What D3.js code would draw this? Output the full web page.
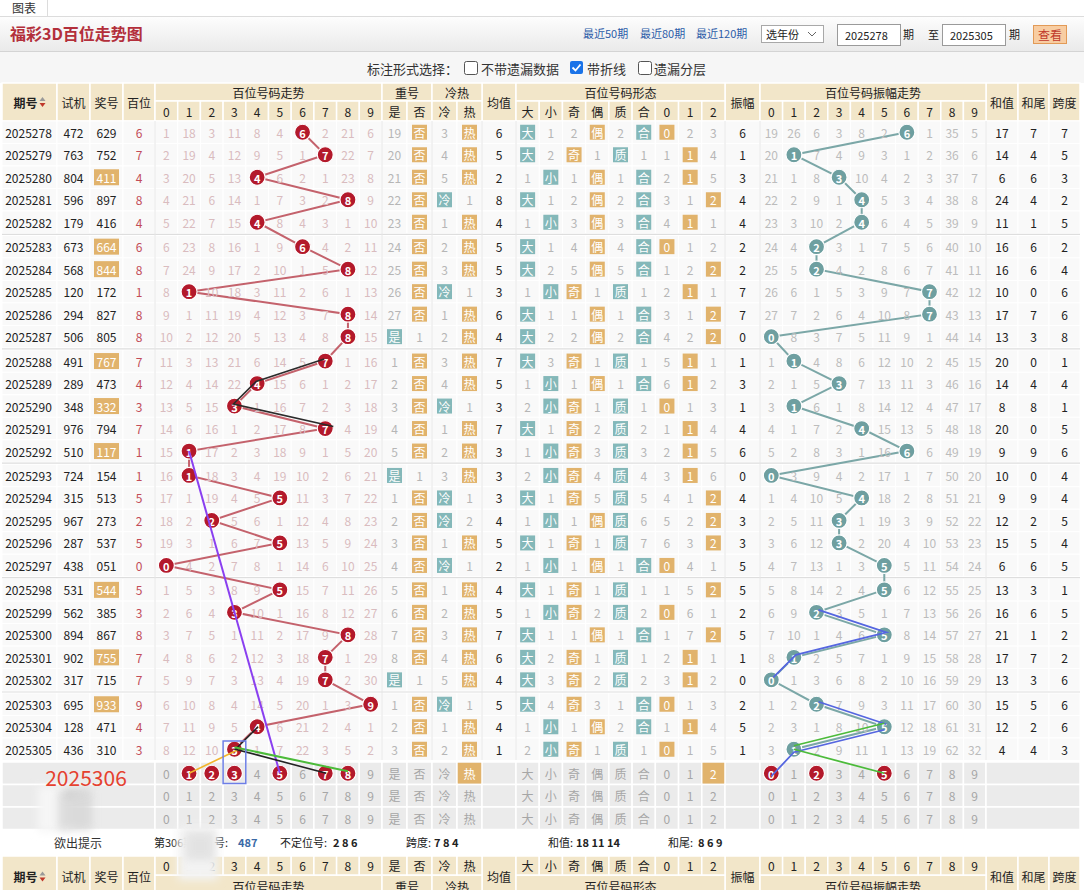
<!DOCTYPE html>
<html><head><meta charset="utf-8">
<script src="https://cdn.jsdelivr.net/npm/d3@7"></script>
<style>
body{margin:0;background:#fff;}
svg text{font-family:"Noto Sans CJK SC","Noto Sans",sans-serif;}
</style></head>
<body><svg id="c" width="1084" height="890"></svg>
<script>
// ---------------- DATA ----------------
const issues = ["2025278","2025279","2025280","2025281","2025282","2025283","2025284","2025285","2025286","2025287","2025288","2025289","2025290","2025291","2025292","2025293","2025294","2025295","2025296","2025297","2025298","2025299","2025300","2025301","2025302","2025303","2025304","2025305"];
const shiji = ["472","763","804","596","179","673","568","120","294","506","491","289","348","976","510","724","315","967","287","438","531","562","894","902","317","695","128","436"];
const jianghao = ["629","752","411","897","416","664","844","172","827","805","767","473","332","794","117","154","513","273","537","051","544","385","867","755","715","933","471","310"];
const jianghaoMarked = ["411","664","844","767","332","117","544","755","933"];
const baiwei = [6,7,4,8,4,6,8,1,8,8,7,4,3,7,1,1,5,2,5,0,5,3,8,7,7,9,4,3];
// miss values for digits 0-9 (0 = drawn this issue)
const trendMiss = [
 [1,18,3,11,8,4,0,2,21,6],[2,19,4,12,9,5,1,0,22,7],[3,20,5,13,0,6,2,1,23,8],[4,21,6,14,1,7,3,2,0,9],[5,22,7,15,0,8,4,3,1,10],
 [6,23,8,16,1,9,0,4,2,11],[7,24,9,17,2,10,1,5,0,12],[8,0,10,18,3,11,2,6,1,13],[9,1,11,19,4,12,3,7,0,14],[10,2,12,20,5,13,4,8,0,15],
 [11,3,13,21,6,14,5,0,1,16],[12,4,14,22,0,15,6,1,2,17],[13,5,15,0,1,16,7,2,3,18],[14,6,16,1,2,17,8,0,4,19],[15,0,17,2,3,18,9,1,5,20],
 [16,0,18,3,4,19,10,2,6,21],[17,1,19,4,5,0,11,3,7,22],[18,2,0,5,6,1,12,4,8,23],[19,3,1,6,7,0,13,5,9,24],[0,4,2,7,8,1,14,6,10,25],
 [1,5,3,8,9,0,15,7,11,26],[2,6,4,0,10,1,16,8,12,27],[3,7,5,1,11,2,17,9,0,28],[4,8,6,2,12,3,18,0,1,29],[5,9,7,3,13,4,19,0,2,30],
 [6,10,8,4,14,5,20,1,3,0],[7,11,9,5,0,6,21,2,4,1],[8,12,10,0,1,7,22,3,5,2]];
// 重号 [是,否]  (0 = hit)
const chong = [[19,0],[20,0],[21,0],[22,0],[23,0],[24,0],[25,0],[26,0],[27,0],[0,1],[1,0],[2,0],[3,0],[4,0],[5,0],[0,1],[1,0],[2,0],[3,0],[4,0],[5,0],[6,0],[7,0],[8,0],[0,1],[1,0],[2,0],[3,0]];
// 冷热 [冷,热]
const lengre = [[3,0],[4,0],[5,0],[0,1],[1,0],[2,0],[3,0],[0,1],[1,0],[2,0],[3,0],[4,0],[0,1],[1,0],[2,0],[3,0],[0,1],[0,2],[1,0],[0,1],[1,0],[2,0],[3,0],[4,0],[5,0],[0,1],[1,0],[2,0]];
const junzhi = [6,5,2,8,4,5,5,3,6,4,7,5,3,7,3,3,3,4,5,2,4,5,7,6,4,5,4,1];
// 形态 大 小 奇 偶 质 合 0 1 2
const formMiss = [
 [0,1,2,0,2,0,0,2,3],[0,2,0,1,0,1,1,0,4],[1,0,1,0,1,0,2,0,5],[0,1,2,0,2,0,3,1,0],[1,0,3,0,3,0,4,0,1],
 [0,1,4,0,4,0,0,1,2],[0,2,5,0,5,0,1,2,0],[1,0,0,1,0,1,2,0,1],[0,1,1,0,1,0,3,1,0],[0,2,2,0,2,0,4,2,0],
 [0,3,0,1,0,1,5,0,1],[1,0,1,0,1,0,6,0,2],[2,0,0,1,0,1,0,1,3],[0,1,0,2,0,2,1,0,4],[1,0,0,3,0,3,2,0,5],
 [2,0,0,4,0,4,3,0,6],[0,1,0,5,0,5,4,1,0],[1,0,1,0,0,6,5,2,0],[0,1,0,1,0,7,6,3,0],[1,0,1,0,1,0,0,4,1],
 [0,1,0,1,0,1,1,5,0],[1,0,0,2,0,2,0,6,1],[0,1,1,0,1,0,1,7,0],[0,2,0,1,0,1,2,0,1],[0,3,0,2,0,2,3,0,2],
 [0,4,0,3,1,0,0,1,3],[1,0,1,0,2,0,1,0,4],[2,0,0,1,0,1,0,1,5]];
const zhenfu = [6,1,3,4,4,2,2,7,7,0,1,3,1,4,6,0,4,3,3,5,5,2,5,1,0,2,5,1];
const ampMiss = [
 [19,26,6,3,8,2,0,1,35,5],[20,0,7,4,9,3,1,2,36,6],[21,1,8,0,10,4,2,3,37,7],[22,2,9,1,0,5,3,4,38,8],[23,3,10,2,0,6,4,5,39,9],
 [24,4,0,3,1,7,5,6,40,10],[25,5,0,4,2,8,6,7,41,11],[26,6,1,5,3,9,7,0,42,12],[27,7,2,6,4,10,8,0,43,13],[0,8,3,7,5,11,9,1,44,14],
 [1,0,4,8,6,12,10,2,45,15],[2,1,5,0,7,13,11,3,46,16],[3,0,6,1,8,14,12,4,47,17],[4,1,7,2,0,15,13,5,48,18],[5,2,8,3,1,16,0,6,49,19],
 [0,3,9,4,2,17,1,7,50,20],[1,4,10,5,0,18,2,8,51,21],[2,5,11,0,1,19,3,9,52,22],[3,6,12,0,2,20,4,10,53,23],[4,7,13,1,3,0,5,11,54,24],
 [5,8,14,2,4,0,6,12,55,25],[6,9,0,3,5,1,7,13,56,26],[7,10,1,4,6,0,8,14,57,27],[8,0,2,5,7,1,9,15,58,28],[0,1,3,6,8,2,10,16,59,29],
 [1,2,0,7,9,3,11,17,60,30],[2,3,1,8,10,0,12,18,61,31],[3,0,2,9,11,1,13,19,62,32]];
const hezhi = [17,14,6,24,11,16,16,10,17,13,20,14,8,20,9,10,9,12,15,6,13,16,21,17,13,15,12,4];
const hewei = [7,4,6,4,1,6,6,0,7,3,0,4,8,0,9,0,9,2,5,6,3,6,1,7,3,5,2,4];
const kuadu = [7,5,3,2,5,2,4,6,6,8,1,4,1,5,6,4,4,5,4,5,1,5,2,2,6,6,6,3];
// labels
const digits = ["0","1","2","3","4","5","6","7","8","9"];
const chongLabels = ["是","否"];
const lengreLabels = ["冷","热"];
const formLabels = ["大","小","奇","偶","质","合","0","1","2"];
// prediction rows (next issue)
const nextIssue = "2025306";
const predBalls = [1,2,3,5,7,8];
const predAmpBalls = [0,2,5];
const predHot = 1;      // index in lengreLabels
const predForm = 8;     // index in formLabels
// user-drawn lines: [row, digit], row 28 = prediction row
const trendMarks = [
 {color:"#2b2b2b", w:1.6, dx:-1, dy:-2, pts:[[10,7],[11,4],[12,3],[13,7.4]]},
 {color:"#8a3ff0", w:2, dx:0, dy:0, pts:[[14,1],[28,5]]},
 {color:"#f2b52c", w:1.6, dx:0, dy:0, pts:[[28,1],[27,3.2]]},
 {color:"#222", w:1.6, dx:1, dy:0, pts:[[26,4],[27,3],[28,7]]},
 {color:"#4cbb3a", w:2, dx:0, dy:-2, pts:[[27,3],[28,8]]}
];
const ampMarks = [
 {color:"#5566e0", w:1.8, dx:2, dy:-2.5, pts:[[21,2],[22,5],[23,1],[24,0]]},
 {color:"#5566e0", w:1.8, dx:2, dy:-2.5, pts:[[25,2],[26,5]]},
 {color:"#5566e0", w:1.8, dx:0, dy:3, pts:[[26,5],[27,1],[28,0]]},
 {color:"#4cbb3a", w:1.8, dx:0, dy:-3.5, pts:[[26,5],[27,1]]},
 {color:"#4cbb3a", w:1.8, dx:0, dy:0, pts:[[27,1],[28,5]]}
];
const hintItems = [
 {x:154, t:"第306期", bold:false},
 {x:214, t:"号:", bold:false},
 {x:238, t:"487", bold:true, fill:"#3a6aa6"},
 {x:280, t:"不定位号:", bold:false},
 {x:333, t:"2 8 6", bold:true},
 {x:406, t:"跨度:", bold:false},
 {x:434, t:"7 8 4", bold:true},
 {x:548, t:"和值:", bold:false},
 {x:576, t:"18 11 14", bold:true},
 {x:668, t:"和尾:", bold:false},
 {x:698, t:"8 6 9", bold:true}
];

// ---------------- STYLE ----------------
const C = {ball:"#b3192b", redLine:"#c4626c", teal:"#6e9fa0", tealLine:"#7ba7a7",
  bOrange:"#e1b36c", bTeal:"#84b8b9", trendMiss:"#d9bcbf", miss:"#b6b6b6", text:"#222",
  head:"#f2e6c9", cell:"#f9f9f9", pred:"#ebebeb"};

const svg = d3.select("#c");
const defs = svg.append("defs");
const g1 = defs.append("linearGradient").attr("id","tb").attr("x1",0).attr("y1",0).attr("x2",0).attr("y2",1);
g1.append("stop").attr("offset","0%").attr("stop-color","#fdfdfd");
g1.append("stop").attr("offset","100%").attr("stop-color","#eaeaea");
defs.append("filter").attr("id","blur").attr("x","-60%").attr("y","-60%").attr("width","220%").attr("height","220%")
  .append("feGaussianBlur").attr("stdDeviation",4);

// layers in paint order
const L = {};
["bg","top","cells","pred","lines","text","balls","over","blur","hint","foot","blur2"].forEach(k=>L[k]=svg.append("g"));

function T(g,x,y,s,o={}){
  return g.append("text").attr("x",x).attr("y",y).attr("text-anchor",o.anchor||"middle")
    .attr("dominant-baseline","central").attr("font-size",o.size||12)
    .attr("font-weight",o.weight||"normal").attr("fill",o.fill||C.text).text(s);
}
function R(g,x0,y0,x1,y1,fill,stroke,sw){
  return g.append("rect").attr("x",x0).attr("y",y0).attr("width",x1-x0).attr("height",y1-y0)
    .attr("fill",fill).attr("stroke",stroke||"none").attr("stroke-width",sw||1);
}

// ---------------- SCALES ----------------
const xTrend = d3.scaleBand().domain(d3.range(10)).range([155,382]);
const xChong = d3.scaleBand().domain(d3.range(2)).range([382,432]);
const xLeng = d3.scaleBand().domain(d3.range(2)).range([432,482]);
const xForm = d3.scaleBand().domain(d3.range(9)).range([516,725]);
const xAmp = d3.scaleBand().domain(d3.range(10)).range([760,986]);
const xTrendC = d3.scaleLinear().domain([0,9]).range([xTrend(0)+xTrend.bandwidth()/2, xTrend(9)+xTrend.bandwidth()/2]);
const xAmpC = d3.scaleLinear().domain([0,9]).range([xAmp(0)+xAmp.bandwidth()/2, xAmp(9)+xAmp.bandwidth()/2]);
const fixedCols = {qihao:[2,57], shiji:[57,90], jiang:[90,123], bai:[123,155], jun:[482,516], zhen:[725,760], he:[986,1018], wei:[1018,1049], kua:[1049,1080]};
const mid = k => (fixedCols[k][0]+fixedCols[k][1])/2;
const RH = 22.5;
const yBase = d3.scaleLinear().domain([0,1]).range([121,121+RH]);
const yTop = i => i < 28 ? yBase(i) + Math.floor(i/5)*1.9 : 762 + (i-28)*RH;
const yC = i => yTop(i) + RH/2;

// ---------------- PAGE TOP ----------------
R(L.bg,0,0,1084,890,"#fff");
const gt = L.top;
gt.append("line").attr("x1",0).attr("x2",1084).attr("y1",16.5).attr("y2",16.5).attr("stroke","#dcdcdc");
gt.append("line").attr("x1",47.5).attr("x2",47.5).attr("y1",0).attr("y2",16).attr("stroke","#dcdcdc");
T(gt,24,7,"图表",{size:12,fill:"#333"});
R(gt,0,17,1084,51,"url(#tb)");
gt.append("line").attr("x1",0).attr("x2",1084).attr("y1",51.5).attr("y2",51.5).attr("stroke","#d4d4d4");
T(gt,10,33,"福彩3D百位走势图",{anchor:"start",size:16,weight:"bold",fill:"#b32f3b"});
[["最近50期",583],["最近80期",640],["最近120期",696]].forEach(([s,x])=>T(gt,x,33,s,{anchor:"start",size:11,fill:"#2c5ca8"}));
R(gt,761.5,25.5,823.5,42.5,"#fff","#a8a8a8");
T(gt,766,34,"选年份",{anchor:"start",size:11});
gt.append("path").attr("d","M808,32 L812,36 L816,32").attr("fill","none").attr("stroke","#666");
R(gt,837.5,24.5,900.5,45.5,"#fff","#9a9a9a");
T(gt,845,35,"2025278",{anchor:"start",size:11});
T(gt,903,34,"期",{anchor:"start",size:11});
T(gt,928,34,"至",{anchor:"start",size:11});
R(gt,942.5,24.5,1005.5,45.5,"#fff","#9a9a9a");
T(gt,950,35,"2025305",{anchor:"start",size:11});
T(gt,1009,34,"期",{anchor:"start",size:11});
R(gt,1033.5,25.5,1066.5,43.5,"#f8cda2","#e29a57");
T(gt,1050,34,"查看",{size:12,fill:"#c0392b"});
// options
R(gt,0,52,1084,83,"#f6f6f6");
T(gt,367,68,"标注形式选择：",{anchor:"start",size:13,fill:"#333"});
R(gt,464.5,61.5,477.5,74.5,"#fff","#555").attr("rx",2);
T(gt,481,68,"不带遗漏数据",{anchor:"start",size:13,fill:"#333"});
R(gt,570,61,583,74,"#1a73e8").attr("rx",2);
gt.append("path").attr("d","M572.5,67.5 L575.5,70.5 L580.5,64.5").attr("fill","none").attr("stroke","#fff").attr("stroke-width",1.8);
T(gt,587,68,"带折线",{anchor:"start",size:13,fill:"#333"});
R(gt,638.5,61.5,651.5,74.5,"#fff","#555").attr("rx",2);
T(gt,654,68,"遗漏分层",{anchor:"start",size:13,fill:"#333"});

// ---------------- HEADERS ----------------
function header(g,y0,yM,y1,flip){
  const span = [["qihao","期号"],["shiji","试机"],["jiang","奖号"],["bai","百位"],["jun","均值"],["zhen","振幅"],["he","和值"],["wei","和尾"],["kua","跨度"]];
  span.forEach(([k,s])=>{
    R(g,fixedCols[k][0],y0,fixedCols[k][1],y1,C.head,"#fff",1.5);
    if(k==="qihao"){
      T(g,mid(k)-4,(y0+y1)/2,s,{size:12,weight:"bold"});
      const cx = mid(k)+13, cy=(y0+y1)/2;
      g.append("path").attr("d",`M${cx-3},${cy-1} L${cx+3},${cy-1} L${cx},${cy-5}Z`).attr("fill","#999");
      g.append("path").attr("d",`M${cx-3},${cy+1} L${cx+3},${cy+1} L${cx},${cy+5}Z`).attr("fill","#c0392b");
    } else T(g,mid(k),(y0+y1)/2,s,{size:12});
  });
  const gy0 = flip? yM : y0, gy1 = flip? y1 : yM, sy0 = flip? y0 : yM, sy1 = flip? yM : y1;
  const groups = [[155,382,"百位号码走势"],[382,432,"重号"],[432,482,"冷热"],[516,725,"百位号码形态"],[760,986,"百位号码振幅走势"]];
  groups.forEach(([a,b,s])=>{R(g,a,gy0,b,gy1,C.head,"#fff",1.5);T(g,(a+b)/2,(gy0+gy1)/2,s,{size:12});});
  const subs = [[xTrend,digits],[xChong,chongLabels],[xLeng,lengreLabels],[xForm,formLabels],[xAmp,digits]];
  subs.forEach(([sc,labels])=>{
    sc.domain().forEach(d=>{
      R(g,sc(d),sy0,sc(d)+sc.bandwidth(),sy1,C.head,"#fff",1.5);
      T(g,sc(d)+sc.bandwidth()/2,(sy0+sy1)/2,labels[d],{size:12});
    });
  });
}
header(L.top,83,101,121,false);

// ---------------- DATA ROWS ----------------
const allCols = [[2,57],[57,90],[90,123],[123,155],...xTrend.domain().map(d=>[xTrend(d),xTrend(d)+xTrend.bandwidth()]),
  [382,407],[407,432],[432,457],[457,482],[482,516],...xForm.domain().map(d=>[xForm(d),xForm(d)+xForm.bandwidth()]),
  [725,760],...xAmp.domain().map(d=>[xAmp(d),xAmp(d)+xAmp.bandwidth()]),[986,1018],[1018,1049],[1049,1080]];
issues.forEach((q,i)=>{
  allCols.forEach(([a,b])=>R(L.cells,a,yTop(i),b,yTop(i)+RH,C.cell,"#fff",1));
});
d3.range(1,6).forEach(k=>{
  L.cells.append("line").attr("x1",2).attr("x2",1080).attr("y1",yTop(5*k)-1).attr("y2",yTop(5*k)-1).attr("stroke","#dedede").attr("stroke-width",1.2);
});
[155,382,432,482,516,725,760,986].forEach(x=>{
  L.cells.append("line").attr("x1",x).attr("x2",x).attr("y1",121).attr("y2",760).attr("stroke","#e6e6e6").attr("stroke-width",1);
});

function box(g,cx,cy,w,h,fill,s){
  R(g,cx-w/2,cy-h/2,cx+w/2,cy+h/2,fill);
  T(g,cx,cy,s,{size:12,fill:"#fff"});
}
const gM = L.text;
issues.forEach((q,i)=>{
  const cy = yC(i);
  T(gM,mid("qihao")-1,cy,q,{size:12});
  T(gM,mid("shiji"),cy,shiji[i],{size:12});
  if(jianghaoMarked.includes(jianghao[i])) box(gM,mid("jiang"),cy,25,16,C.bOrange,jianghao[i]);
  else T(gM,mid("jiang"),cy,jianghao[i],{size:12});
  T(gM,mid("bai"),cy,baiwei[i],{size:12,fill:"#c24c58"});
  trendMiss[i].forEach((v,d)=>{ if(v!==0) T(gM,xTrendC(d),cy,v,{size:12,fill:C.trendMiss}); });
  chong[i].forEach((v,d)=>{
    const cx = xChong(d)+xChong.bandwidth()/2;
    if(v===0) box(gM,cx,cy,15,15,d===0?C.bTeal:C.bOrange,chongLabels[d]);
    else T(gM,cx,cy,v,{size:12,fill:C.miss});
  });
  lengre[i].forEach((v,d)=>{
    const cx = xLeng(d)+xLeng.bandwidth()/2;
    if(v===0) box(gM,cx,cy,15,15,d===0?C.bTeal:C.bOrange,lengreLabels[d]);
    else T(gM,cx,cy,v,{size:12,fill:C.miss});
  });
  T(gM,mid("jun"),cy,junzhi[i],{size:12});
  formMiss[i].forEach((v,d)=>{
    const cx = xForm(d)+xForm.bandwidth()/2;
    const teal = [0,1,4,5].includes(d);
    if(v===0) box(gM,cx,cy,15,15,teal?C.bTeal:C.bOrange,formLabels[d]);
    else T(gM,cx,cy,v,{size:12,fill:C.miss});
  });
  T(gM,mid("zhen"),cy,zhenfu[i],{size:12});
  ampMiss[i].forEach((v,d)=>{ if(v!==0) T(gM,xAmpC(d),cy,v,{size:12,fill:"#bcbcbc"}); });
  T(gM,mid("he"),cy,hezhi[i],{size:12});
  T(gM,mid("wei"),cy,hewei[i],{size:12});
  T(gM,mid("kua"),cy,kuadu[i],{size:12});
});

// prediction rows
const gP = L.pred;
[28,29,30].forEach((r,k)=>{
  const y0 = yTop(r), y1 = y0+RH, cy = yC(r);
  R(gP,2,y0,155,y1,C.pred,"#fff",1.5);
  allCols.slice(4).forEach(([a,b])=>{ if(a<986) R(gP,a,y0,b,y1,C.pred,"#fff",1.5); });
  R(gP,986,y0,1080,y1,C.pred,"#fff",1.5);
  digits.forEach((s,d)=>{ if(!(k===0 && predBalls.includes(d))) T(gP,xTrendC(d),cy,s,{size:12,fill:"#a6a6a6"}); });
  chongLabels.forEach((s,d)=>T(gP,xChong(d)+xChong.bandwidth()/2,cy,s,{size:12,fill:"#a6a6a6"}));
  lengreLabels.forEach((s,d)=>{
    const cx = xLeng(d)+xLeng.bandwidth()/2;
    if(k===0 && d===predHot){ R(gP,xLeng(d)+0.75,y0+0.75,xLeng(d)+xLeng.bandwidth()-0.75,y1-0.75,C.bOrange); T(gP,cx,cy,s,{size:12,fill:"#fff"}); }
    else T(gP,cx,cy,s,{size:12,fill:"#a6a6a6"});
  });
  formLabels.forEach((s,d)=>{
    const cx = xForm(d)+xForm.bandwidth()/2;
    if(k===0 && d===predForm){ R(gP,xForm(d)+0.75,y0+0.75,xForm(d)+xForm.bandwidth()-0.75,y1-0.75,C.bOrange); T(gP,cx,cy,s,{size:12,fill:"#fff"}); }
    else T(gP,cx,cy,s,{size:12,fill:"#a6a6a6"});
  });
  digits.forEach((s,d)=>{ if(!(k===0 && predAmpBalls.includes(d))) T(gP,xAmpC(d),cy,s,{size:12,fill:"#a6a6a6"}); });
});

// ---------------- LINES & BALLS ----------------
const line = d3.line();
L.lines.append("path").datum(baiwei.map((v,i)=>[xTrendC(v),yC(i)]))
  .attr("d",line).attr("fill","none").attr("stroke",C.redLine).attr("stroke-width",2);
L.lines.append("path").datum(zhenfu.map((v,i)=>[xAmpC(v),yC(i)]))
  .attr("d",line).attr("fill","none").attr("stroke",C.tealLine).attr("stroke-width",2);

function ball(g,cx,cy,s,fill){
  g.append("circle").attr("cx",cx).attr("cy",cy).attr("r",8).attr("fill",fill).attr("stroke","#fff").attr("stroke-width",1.2);
  T(g,cx,cy+0.5,s,{size:11,weight:"bold",fill:"#fff"});
}
baiwei.forEach((v,i)=>ball(L.balls,xTrendC(v),yC(i),v,C.ball));
zhenfu.forEach((v,i)=>ball(L.balls,xAmpC(v),yC(i),v,C.teal));
predBalls.forEach(d=>ball(L.balls,xTrendC(d),yC(28),d,C.ball));
predAmpBalls.forEach(d=>ball(L.balls,xAmpC(d),yC(28),d,C.ball));

trendMarks.forEach(m=>{
  L.over.append("path").datum(m.pts.map(([r,d])=>[xTrendC(d)+m.dx,yC(r)+m.dy]))
    .attr("d",line).attr("fill","none").attr("stroke",m.color).attr("stroke-width",m.w);
});
ampMarks.forEach(m=>{
  L.over.append("path").datum(m.pts.map(([r,d])=>[xAmpC(d)+m.dx,yC(r)+m.dy]))
    .attr("d",line).attr("fill","none").attr("stroke",m.color).attr("stroke-width",m.w);
});
L.over.append("rect").attr("x",xTrend(3)).attr("y",yTop(27)+3).attr("width",xTrend.bandwidth()).attr("height",yTop(28)+RH-yTop(27)-4)
  .attr("fill","none").attr("stroke","#6d7ee6").attr("stroke-width",1.5);

// blurred overlays on left of prediction rows
R(L.blur,38,786,72,832,"#f6f6f6").attr("filter","url(#blur)");
R(L.blur,58,790,92,830,"#d6d6d6").attr("filter","url(#blur)").attr("opacity",0.8);
T(L.blur,76,792,"试一?",{size:9,fill:"#aaa"}).attr("filter","url(#blur)");
T(L.blur,86,777,nextIssue,{size:21,fill:"#e5412f"});

// ---------------- HINT ROW ----------------
T(L.hint,78,842,"欲出提示",{size:12,fill:"#333"});
hintItems.forEach(h=>T(L.hint,h.x,842,h.t,{anchor:"start",size:11,weight:h.bold?"bold":"normal",fill:h.fill||"#222"}));

// ---------------- FOOTER HEADER ----------------
header(L.foot,856,875,897,true);
R(L.blur2,178,826,218,880,"#f3f3f3").attr("filter","url(#blur)");
R(L.blur2,186,832,214,860,"#dcdcdc").attr("filter","url(#blur)").attr("opacity",0.7);
</script>
</body></html>
